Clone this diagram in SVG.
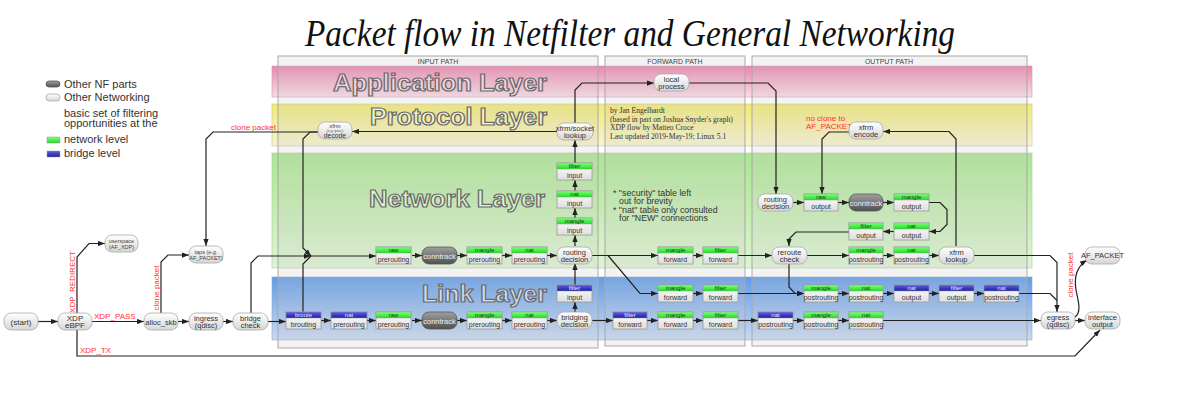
<svg xmlns="http://www.w3.org/2000/svg" width="1184" height="407" viewBox="0 0 1184 407">
<defs>
<linearGradient id="gPink" x1="0" y1="0" x2="0" y2="1"><stop offset="0" stop-color="#ec86ad"/><stop offset="1" stop-color="#f9dbe6"/></linearGradient>
<linearGradient id="gYel" x1="0" y1="0" x2="0" y2="1"><stop offset="0" stop-color="#f2ea70"/><stop offset="1" stop-color="#f7f4d2"/></linearGradient>
<linearGradient id="gGrn" x1="0" y1="0" x2="0" y2="1"><stop offset="0" stop-color="#aae690"/><stop offset="1" stop-color="#e0f4d4"/></linearGradient>
<linearGradient id="gBlu" x1="0" y1="0" x2="0" y2="1"><stop offset="0" stop-color="#609be8"/><stop offset="1" stop-color="#cadaf2"/></linearGradient>
<linearGradient id="gPill" x1="0" y1="0" x2="0" y2="1"><stop offset="0" stop-color="#ffffff"/><stop offset="1" stop-color="#d6d6d6"/></linearGradient>
<linearGradient id="gDark" x1="0" y1="0" x2="0" y2="1"><stop offset="0" stop-color="#a0a0a0"/><stop offset="1" stop-color="#505050"/></linearGradient>
<linearGradient id="gHG" x1="0" y1="0" x2="0" y2="1"><stop offset="0" stop-color="#7cff7c"/><stop offset="1" stop-color="#22dd22"/></linearGradient>
<linearGradient id="gHB" x1="0" y1="0" x2="0" y2="1"><stop offset="0" stop-color="#6060e0"/><stop offset="1" stop-color="#1c1ca8"/></linearGradient>
<linearGradient id="gBody" x1="0" y1="0" x2="0" y2="1"><stop offset="0" stop-color="#ffffff"/><stop offset="1" stop-color="#dedede"/></linearGradient>
<marker id="ah" viewBox="0 0 8 6" refX="8" refY="3" markerWidth="7" markerHeight="5.5" markerUnits="userSpaceOnUse" orient="auto"><path d="M0,0L8,3L0,6z" fill="#222"/></marker>
</defs>
<style>
.col{fill:#c8c8c8;fill-opacity:0.22;stroke:#a8a8a8;stroke-width:1}
.ch{font-family:"Liberation Sans",Arial,sans-serif;font-size:7px;fill:#444;text-anchor:middle}
.lt{font-family:"Liberation Sans",Arial,sans-serif;font-weight:bold;font-size:23px;stroke:#6a6a6a;stroke-width:1.2;text-anchor:end}
.pl{fill:url(#gPill);stroke:#a8a8a8;stroke-width:0.8}
.dk{fill:url(#gDark);stroke:#555;stroke-width:0.8}
.tb{fill:url(#gBody);stroke:#9a9a9a;stroke-width:0.8}
.hg{fill:url(#gHG);stroke:#9a9a9a;stroke-width:0.5}
.hb{fill:url(#gHB);stroke:#9a9a9a;stroke-width:0.5}
.pt{font-family:"Liberation Sans",Arial,sans-serif;font-size:7.5px;fill:#333;text-anchor:middle}
.pb{font-family:"Liberation Sans",Arial,sans-serif;font-size:8px;fill:#333;text-anchor:middle}
.ps{font-family:"Liberation Sans",Arial,sans-serif;font-size:5.5px;fill:#444;text-anchor:middle}
.pd{font-family:"Liberation Sans",Arial,sans-serif;font-size:7.5px;fill:#eee;text-anchor:middle}
.th{font-family:"Liberation Sans",Arial,sans-serif;font-size:6px;fill:#1a3a1a;text-anchor:middle}
.thw{font-family:"Liberation Sans",Arial,sans-serif;font-size:6px;fill:#e8e8ff;text-anchor:middle}
.tt{font-family:"Liberation Sans",Arial,sans-serif;font-size:7px;fill:#333;text-anchor:middle}
.c{fill:none;stroke:#222;stroke-width:1.2}
.rl{font-family:"Liberation Sans",Arial,sans-serif;font-size:8px;fill:#ff3333}
.lg{font-family:"Liberation Sans",Arial,sans-serif;font-size:11px;fill:#333}
.au{font-family:"Liberation Serif","Times New Roman",serif;font-size:7.6px;fill:#333}
.nt{font-family:"Liberation Sans",Arial,sans-serif;font-size:8.8px;fill:#333}
</style>
<rect width="1184" height="407" fill="#ffffff"/>
<text x="630" y="46" font-family="'Liberation Serif','Times New Roman',serif" font-style="italic" font-size="38" fill="#111" text-anchor="middle" textLength="650" lengthAdjust="spacingAndGlyphs">Packet flow in Netfilter and General Networking</text>

<g id="legend">
<rect x="46" y="81" width="14" height="6" rx="3" class="dk"/>
<text class="lg" x="64" y="88">Other NF parts</text>
<rect x="46" y="94" width="14" height="7" rx="3.5" class="pl"/>
<text class="lg" x="64" y="101">Other Networking</text>
<text class="lg" x="64" y="116.5">basic set of filtering</text>
<text class="lg" x="64" y="126.5" font-size="10.5">opportunities at the</text>
<rect x="47" y="137" width="13" height="6" class="hg"/>
<text class="lg" x="64" y="143">network level</text>
<rect x="47" y="151" width="13" height="6" class="hb"/>
<text class="lg" x="64" y="157">bridge level</text>
</g>

<g id="layers">
<rect x="272" y="66" width="760" height="31" fill="url(#gPink)" stroke="#c0a0b0" stroke-width="0.6"/>
<rect x="272" y="104" width="760" height="42" fill="url(#gYel)" stroke="#c8c4a0" stroke-width="0.6"/>
<rect x="272" y="153" width="760" height="115" fill="url(#gGrn)" stroke="#a8c8a0" stroke-width="0.6"/>
<rect x="272" y="277" width="760" height="63" fill="url(#gBlu)" stroke="#90a8c8" stroke-width="0.6"/>
</g>
<g id="columns">
<rect x="278" y="56" width="320" height="292" class="col"/>
<rect x="605" y="56" width="140" height="290" class="col"/>
<rect x="752" y="56" width="275" height="290" class="col"/>
<text class="ch" x="438" y="63.5">INPUT PATH</text>
<text class="ch" x="675" y="63.5">FORWARD PATH</text>
<text class="ch" x="889" y="63.5">OUTPUT PATH</text>
</g>
<g id="layer-titles">
<text class="lt" x="547" y="91" fill="#f5d8e3" textLength="214" lengthAdjust="spacingAndGlyphs">Application Layer</text>
<text class="lt" x="547" y="125" fill="#f6f3cc" textLength="177" lengthAdjust="spacingAndGlyphs">Protocol Layer</text>
<text class="lt" x="545" y="207" fill="#ddf3d0" textLength="176" lengthAdjust="spacingAndGlyphs">Network Layer</text>
<text class="lt" x="547" y="302" fill="#cfdcf2" textLength="125" lengthAdjust="spacingAndGlyphs">Link Layer</text>
</g>

<g id="credits">
<text class="au" x="610" y="113">by Jan Engelhardt</text>
<text class="au" x="610" y="121.5">(based in part on Joshua Snyder's graph)</text>
<text class="au" x="610" y="130">XDP flow by Matteo Croce</text>
<text class="au" x="610" y="138.5">Last updated 2019-May-19; Linux 5.1</text>
</g>
<g id="notes">
<text class="nt" x="613" y="196">* "security" table left</text>
<text class="nt" x="619" y="204">out for brevity</text>
<text class="nt" x="613" y="213">* "nat" table only consulted</text>
<text class="nt" x="619" y="221">for "NEW" connections</text>
</g>

<g id="connectors">
<path class="c" d="M38,321.5H58" marker-end="url(#ah)"/>
<path class="c" d="M92,321.5H144" marker-end="url(#ah)"/>
<path class="c" d="M77,313V257L89,243.5H105" marker-end="url(#ah)"/>
<path class="c" d="M77,330V356H1075L1100,330" marker-end="url(#ah)"/>
<path class="c" d="M178,321.5H189" marker-end="url(#ah)"/>
<path class="c" d="M161,313V262L168,255H189" marker-end="url(#ah)"/>
<path class="c" d="M223,321.5H233" marker-end="url(#ah)"/>
<path class="c" d="M268,321.5H286" marker-end="url(#ah)"/>
<path class="c" d="M251,313V263L258,256H311" marker-end="url(#ah)"/>
<path class="c" d="M318,132H213L206,139V246" marker-end="url(#ah)"/>
<path class="c" d="M318,132H310L303,139V248L311,256" marker-end="url(#ah)"/>
<path class="c" d="M303,312V264L311,256"/>
<path class="c" d="M311,256H376" marker-end="url(#ah)"/>
<path class="c" d="M412,255.5H422" marker-end="url(#ah)"/>
<path class="c" d="M457,255.5H467" marker-end="url(#ah)"/>
<path class="c" d="M502,255.5H512" marker-end="url(#ah)"/>
<path class="c" d="M547,255.5H557" marker-end="url(#ah)"/>
<path class="c" d="M321,320.5H331" marker-end="url(#ah)"/>
<path class="c" d="M367,320.5H376" marker-end="url(#ah)"/>
<path class="c" d="M412,320.5H422" marker-end="url(#ah)"/>
<path class="c" d="M457,320.5H467" marker-end="url(#ah)"/>
<path class="c" d="M502,320.5H512" marker-end="url(#ah)"/>
<path class="c" d="M547,320.5H557" marker-end="url(#ah)"/>
<path class="c" d="M575,312V302" marker-end="url(#ah)"/>
<path class="c" d="M575,285V263" marker-end="url(#ah)"/>
<path class="c" d="M575,246V235" marker-end="url(#ah)"/>
<path class="c" d="M575,218V208" marker-end="url(#ah)"/>
<path class="c" d="M575,191V180" marker-end="url(#ah)"/>
<path class="c" d="M575,163V140" marker-end="url(#ah)"/>
<path class="c" d="M557,131.5H352" marker-end="url(#ah)"/>
<path class="c" d="M575,123V90L582,83H654" marker-end="url(#ah)"/>
<path class="c" d="M689,83H768L776,91V194" marker-end="url(#ah)"/>
<path class="c" d="M592,255.5H658" marker-end="url(#ah)"/>
<path class="c" d="M608,255.5L640,293.5H658" marker-end="url(#ah)"/>
<path class="c" d="M693,255.5H703" marker-end="url(#ah)"/>
<path class="c" d="M738,255.5H772" marker-end="url(#ah)"/>
<path class="c" d="M693,293.5H703" marker-end="url(#ah)"/>
<path class="c" d="M738,293.5H804" marker-end="url(#ah)"/>
<path class="c" d="M592,320.5H613" marker-end="url(#ah)"/>
<path class="c" d="M647,320.5H658" marker-end="url(#ah)"/>
<path class="c" d="M693,320.5H703" marker-end="url(#ah)"/>
<path class="c" d="M738,320.5H758" marker-end="url(#ah)"/>
<path class="c" d="M793,320.5H804" marker-end="url(#ah)"/>
<path class="c" d="M838,320.5H849" marker-end="url(#ah)"/>
<path class="c" d="M883,320.5H1041" marker-end="url(#ah)"/>
<path class="c" d="M793,202.5H804" marker-end="url(#ah)"/>
<path class="c" d="M838,202.5H849" marker-end="url(#ah)"/>
<path class="c" d="M883,202.5H894" marker-end="url(#ah)"/>
<path class="c" d="M929,202.5H940L947,209.5V224.5L940,231.5H929" marker-end="url(#ah)"/>
<path class="c" d="M894,231.5H883" marker-end="url(#ah)"/>
<path class="c" d="M849,232H796L789,239V246" marker-end="url(#ah)"/>
<path class="c" d="M807,255.5H849" marker-end="url(#ah)"/>
<path class="c" d="M883,255.5H894" marker-end="url(#ah)"/>
<path class="c" d="M929,255.5H939" marker-end="url(#ah)"/>
<path class="c" d="M789,263V287L795,293.5H804" marker-end="url(#ah)"/>
<path class="c" d="M974,255.5H1050L1057,262.5V312" marker-end="url(#ah)"/>
<path class="c" d="M838,293.5H849" marker-end="url(#ah)"/>
<path class="c" d="M883,293.5H894" marker-end="url(#ah)"/>
<path class="c" d="M929,293.5H939" marker-end="url(#ah)"/>
<path class="c" d="M974,293.5H984" marker-end="url(#ah)"/>
<path class="c" d="M1019,293.5H1050L1057,300.5"/>
<path class="c" d="M956,246V139L949,131.5H883" marker-end="url(#ah)"/>
<path class="c" d="M849,132H829L822,139V194" marker-end="url(#ah)"/>
<path class="c" d="M1075,320.5H1085" marker-end="url(#ah)"/>
<path class="c" d="M1075,317C1082,312 1078,300 1076,290C1074,278 1076,267 1087,260" marker-end="url(#ah)"/>
</g>

<g id="edge-labels">
<text class="rl" x="94" y="318.5">XDP_PASS</text>
<text class="rl" x="80" y="352.5">XDP_TX</text>
<text class="rl" transform="translate(74.5,282) rotate(-90)" text-anchor="middle">XDP_REDIRECT</text>
<text class="rl" transform="translate(159,288) rotate(-90)" text-anchor="middle" font-size="7.5">clone packet</text>
<text class="rl" x="231" y="129.5" font-size="7.5">clone packet</text>
<text class="rl" transform="translate(1073,275) rotate(-90)" text-anchor="middle" font-size="7.5">clone packet</text>
<text class="rl" x="806" y="120.5" font-size="7.3">no clone to</text>
<text class="rl" x="806" y="128.5" font-size="7.3">AF_PACKET</text>
</g>

<!-- pills -->
<g id="n-start" transform="translate(4,313)"><rect class="pl" width="34" height="17" rx="7"/><text class="pb" x="17" y="11.5">(start)</text></g>
<g id="n-xdp" transform="translate(58,313)"><rect class="pl" width="34" height="17" rx="7"/><text class="pb" x="17" y="7.6" font-size="7.8">XDP</text><text class="pb" x="17" y="15.4" font-size="7.8">eBPF</text></g>
<g id="n-afxdp" transform="translate(105,235)"><rect class="pl" width="33" height="17" rx="7"/><text class="ps" x="16.5" y="7.5">userspace</text><text class="ps" x="16.5" y="13.5">(AF_XDP)</text></g>
<g id="n-alloc" transform="translate(144,313)"><rect class="pl" width="34" height="17" rx="7"/><text class="pt" x="17" y="11.5">alloc_skb</text></g>
<g id="n-taps" transform="translate(189,246)"><rect class="pl" width="34" height="17" rx="7"/><text class="ps" x="17" y="7.5">taps (e.g.</text><text class="ps" x="17" y="13.5">AF_PACKET)</text></g>
<g id="n-ingress" transform="translate(189,313)"><rect class="pl" width="34" height="17" rx="7"/><text class="pt" x="17" y="7.5">ingress</text><text class="pt" x="17" y="14.5">(qdisc)</text></g>
<g id="n-bridgecheck" transform="translate(233,313)"><rect class="pl" width="35" height="17" rx="7"/><text class="pt" x="17.5" y="7.5">bridge</text><text class="pt" x="17.5" y="14.5">check</text></g>
<g id="n-xfrmdecode" transform="translate(318,122)"><rect class="pl" width="34" height="17" rx="7"/><text class="pt"><tspan x="17" y="5.6" font-size="5.8">xfrm</tspan><tspan x="17" y="10" font-size="3.3" fill="#555">(e.g. ipsec)</tspan><tspan x="17" y="16.2" font-size="6.8">decode</tspan></text></g>
<g id="n-socklookup" transform="translate(557,123)"><rect class="pl" width="36" height="17" rx="7"/><text class="pt" x="18" y="7.5" font-size="6.8">xfrm/socket</text><text class="pt" x="18" y="14.5">lookup</text></g>
<g id="n-localproc" transform="translate(654,74)"><rect class="pl" width="35" height="17" rx="7"/><text class="pt" x="17.5" y="7.5">local</text><text class="pt" x="17.5" y="14.5">process</text></g>
<g id="n-rdin" transform="translate(557,247)"><rect class="pl" width="35" height="17" rx="7"/><text class="pt" x="17.5" y="7.5">routing</text><text class="pt" x="17.5" y="14.5">decision</text></g>
<g id="n-bridging" transform="translate(557,312)"><rect class="pl" width="35" height="17" rx="7"/><text class="pt" x="17.5" y="7.5">bridging</text><text class="pt" x="17.5" y="14.5">decision</text></g>
<g id="n-rdout" transform="translate(758,194)"><rect class="pl" width="35" height="17" rx="7"/><text class="pt" x="17.5" y="7.5">routing</text><text class="pt" x="17.5" y="14.5">decision</text></g>
<g id="n-reroute" transform="translate(772,247)"><rect class="pl" width="35" height="17" rx="7"/><text class="pt" x="17.5" y="7.5">reroute</text><text class="pt" x="17.5" y="14.5">check</text></g>
<g id="n-xfrmencode" transform="translate(849,122)"><rect class="pl" width="34" height="17" rx="7"/><text class="pt" x="17" y="7.5">xfrm</text><text class="pt" x="17" y="14.5">encode</text></g>
<g id="n-xfrmlookup" transform="translate(939,247)"><rect class="pl" width="35" height="17" rx="7"/><text class="pt" x="17.5" y="7.5">xfrm</text><text class="pt" x="17.5" y="14.5">lookup</text></g>
<g id="n-afpacket" transform="translate(1085,247)"><rect class="pl" width="35" height="17" rx="7"/><text class="pt" x="17.5" y="11" font-size="6.8">AF_PACKET</text></g>
<g id="n-egress" transform="translate(1041,312)"><rect class="pl" width="34" height="17" rx="7"/><text class="pt" x="17" y="7.5">egress</text><text class="pt" x="17" y="14.5">(qdisc)</text></g>
<g id="n-ifout" transform="translate(1085,312)"><rect class="pl" width="35" height="17" rx="7"/><text class="pt" x="17.5" y="7.5">interface</text><text class="pt" x="17.5" y="14.5">output</text></g>
<g id="n-ct1" transform="translate(422,247)"><rect class="dk" width="35" height="17" rx="7"/><text class="pd" x="17.5" y="11.5">conntrack</text></g>
<g id="n-ct2" transform="translate(422,312)"><rect class="dk" width="35" height="17" rx="7"/><text class="pd" x="17.5" y="11.5">conntrack</text></g>
<g id="n-ct3" transform="translate(849,194)"><rect class="dk" width="34" height="17" rx="7"/><text class="pd" x="17" y="11.5">conntrack</text></g>

<!-- tables: network level (green) -->
<g id="t-raw-pre-n" transform="translate(376,247)"><rect class="tb" width="35" height="17"/><rect class="hg" width="35" height="6"/><text class="th" x="17.5" y="5.2">raw</text><text class="tt" x="17.5" y="14.6">prerouting</text></g>
<g id="t-mangle-pre-n" transform="translate(467,247)"><rect class="tb" width="35" height="17"/><rect class="hg" width="35" height="6"/><text class="th" x="17.5" y="5.2">mangle</text><text class="tt" x="17.5" y="14.6">prerouting</text></g>
<g id="t-nat-pre-n" transform="translate(512,247)"><rect class="tb" width="35" height="17"/><rect class="hg" width="35" height="6"/><text class="th" x="17.5" y="5.2">nat</text><text class="tt" x="17.5" y="14.6">prerouting</text></g>
<g id="t-filter-in" transform="translate(557,163)"><rect class="tb" width="35" height="17"/><rect class="hg" width="35" height="6"/><text class="th" x="17.5" y="5.2">filter</text><text class="tt" x="17.5" y="14.6">input</text></g>
<g id="t-nat-in" transform="translate(557,191)"><rect class="tb" width="35" height="17"/><rect class="hg" width="35" height="6"/><text class="th" x="17.5" y="5.2">nat</text><text class="tt" x="17.5" y="14.6">input</text></g>
<g id="t-mangle-in" transform="translate(557,218)"><rect class="tb" width="35" height="17"/><rect class="hg" width="35" height="6"/><text class="th" x="17.5" y="5.2">mangle</text><text class="tt" x="17.5" y="14.6">input</text></g>
<g id="t-raw-pre-l" transform="translate(376,312)"><rect class="tb" width="35" height="17"/><rect class="hg" width="35" height="6"/><text class="th" x="17.5" y="5.2">raw</text><text class="tt" x="17.5" y="14.6">prerouting</text></g>
<g id="t-mangle-pre-l" transform="translate(467,312)"><rect class="tb" width="35" height="17"/><rect class="hg" width="35" height="6"/><text class="th" x="17.5" y="5.2">mangle</text><text class="tt" x="17.5" y="14.6">prerouting</text></g>
<g id="t-nat-pre-l" transform="translate(512,312)"><rect class="tb" width="35" height="17"/><rect class="hg" width="35" height="6"/><text class="th" x="17.5" y="5.2">nat</text><text class="tt" x="17.5" y="14.6">prerouting</text></g>
<g id="t-mangle-fwd-1" transform="translate(658,247)"><rect class="tb" width="35" height="17"/><rect class="hg" width="35" height="6"/><text class="th" x="17.5" y="5.2">mangle</text><text class="tt" x="17.5" y="14.6">forward</text></g>
<g id="t-filter-fwd-1" transform="translate(703,247)"><rect class="tb" width="35" height="17"/><rect class="hg" width="35" height="6"/><text class="th" x="17.5" y="5.2">filter</text><text class="tt" x="17.5" y="14.6">forward</text></g>
<g id="t-mangle-fwd-2" transform="translate(658,285)"><rect class="tb" width="35" height="17"/><rect class="hg" width="35" height="6"/><text class="th" x="17.5" y="5.2">mangle</text><text class="tt" x="17.5" y="14.6">forward</text></g>
<g id="t-filter-fwd-2" transform="translate(703,285)"><rect class="tb" width="35" height="17"/><rect class="hg" width="35" height="6"/><text class="th" x="17.5" y="5.2">filter</text><text class="tt" x="17.5" y="14.6">forward</text></g>
<g id="t-mangle-fwd-3" transform="translate(658,312)"><rect class="tb" width="35" height="17"/><rect class="hg" width="35" height="6"/><text class="th" x="17.5" y="5.2">mangle</text><text class="tt" x="17.5" y="14.6">forward</text></g>
<g id="t-filter-fwd-3" transform="translate(703,312)"><rect class="tb" width="35" height="17"/><rect class="hg" width="35" height="6"/><text class="th" x="17.5" y="5.2">filter</text><text class="tt" x="17.5" y="14.6">forward</text></g>
<g id="t-raw-out" transform="translate(804,194)"><rect class="tb" width="34" height="17"/><rect class="hg" width="34" height="6"/><text class="th" x="17" y="5.2">raw</text><text class="tt" x="17" y="14.6">output</text></g>
<g id="t-mangle-out" transform="translate(894,194)"><rect class="tb" width="35" height="17"/><rect class="hg" width="35" height="6"/><text class="th" x="17.5" y="5.2">mangle</text><text class="tt" x="17.5" y="14.6">output</text></g>
<g id="t-nat-out" transform="translate(894,223)"><rect class="tb" width="35" height="17"/><rect class="hg" width="35" height="6"/><text class="th" x="17.5" y="5.2">nat</text><text class="tt" x="17.5" y="14.6">output</text></g>
<g id="t-filter-out" transform="translate(849,223)"><rect class="tb" width="34" height="17"/><rect class="hg" width="34" height="6"/><text class="th" x="17" y="5.2">filter</text><text class="tt" x="17" y="14.6">output</text></g>
<g id="t-mangle-post-n" transform="translate(849,247)"><rect class="tb" width="34" height="17"/><rect class="hg" width="34" height="6"/><text class="th" x="17" y="5.2">mangle</text><text class="tt" x="17" y="14.6">postrouting</text></g>
<g id="t-nat-post-n" transform="translate(894,247)"><rect class="tb" width="35" height="17"/><rect class="hg" width="35" height="6"/><text class="th" x="17.5" y="5.2">nat</text><text class="tt" x="17.5" y="14.6">postrouting</text></g>
<g id="t-mangle-post-m" transform="translate(804,285)"><rect class="tb" width="34" height="17"/><rect class="hg" width="34" height="6"/><text class="th" x="17" y="5.2">mangle</text><text class="tt" x="17" y="14.6">postrouting</text></g>
<g id="t-nat-post-m" transform="translate(849,285)"><rect class="tb" width="34" height="17"/><rect class="hg" width="34" height="6"/><text class="th" x="17" y="5.2">nat</text><text class="tt" x="17" y="14.6">postrouting</text></g>
<g id="t-mangle-post-l" transform="translate(804,312)"><rect class="tb" width="34" height="17"/><rect class="hg" width="34" height="6"/><text class="th" x="17" y="5.2">mangle</text><text class="tt" x="17" y="14.6">postrouting</text></g>
<g id="t-nat-post-l" transform="translate(849,312)"><rect class="tb" width="34" height="17"/><rect class="hg" width="34" height="6"/><text class="th" x="17" y="5.2">nat</text><text class="tt" x="17" y="14.6">postrouting</text></g>

<!-- tables: bridge level (blue) -->
<g id="b-broute" transform="translate(286,312)"><rect class="tb" width="35" height="17"/><rect class="hb" width="35" height="6"/><text class="thw" x="17.5" y="5.2">broute</text><text class="tt" x="17.5" y="14.6">brouting</text></g>
<g id="b-nat-pre" transform="translate(331,312)"><rect class="tb" width="36" height="17"/><rect class="hb" width="36" height="6"/><text class="thw" x="18" y="5.2">nat</text><text class="tt" x="18" y="14.6">prerouting</text></g>
<g id="b-filter-in" transform="translate(557,285)"><rect class="tb" width="35" height="17"/><rect class="hb" width="35" height="6"/><text class="thw" x="17.5" y="5.2">filter</text><text class="tt" x="17.5" y="14.6">input</text></g>
<g id="b-filter-fwd" transform="translate(613,312)"><rect class="tb" width="34" height="17"/><rect class="hb" width="34" height="6"/><text class="thw" x="17" y="5.2">filter</text><text class="tt" x="17" y="14.6">forward</text></g>
<g id="b-nat-out" transform="translate(894,285)"><rect class="tb" width="35" height="17"/><rect class="hb" width="35" height="6"/><text class="thw" x="17.5" y="5.2">nat</text><text class="tt" x="17.5" y="14.6">output</text></g>
<g id="b-filter-out" transform="translate(939,285)"><rect class="tb" width="35" height="17"/><rect class="hb" width="35" height="6"/><text class="thw" x="17.5" y="5.2">filter</text><text class="tt" x="17.5" y="14.6">output</text></g>
<g id="b-nat-post-1" transform="translate(984,285)"><rect class="tb" width="35" height="17"/><rect class="hb" width="35" height="6"/><text class="thw" x="17.5" y="5.2">nat</text><text class="tt" x="17.5" y="14.6">postrouting</text></g>
<g id="b-nat-post-2" transform="translate(758,312)"><rect class="tb" width="35" height="17"/><rect class="hb" width="35" height="6"/><text class="thw" x="17.5" y="5.2">nat</text><text class="tt" x="17.5" y="14.6">postrouting</text></g>
</svg>
